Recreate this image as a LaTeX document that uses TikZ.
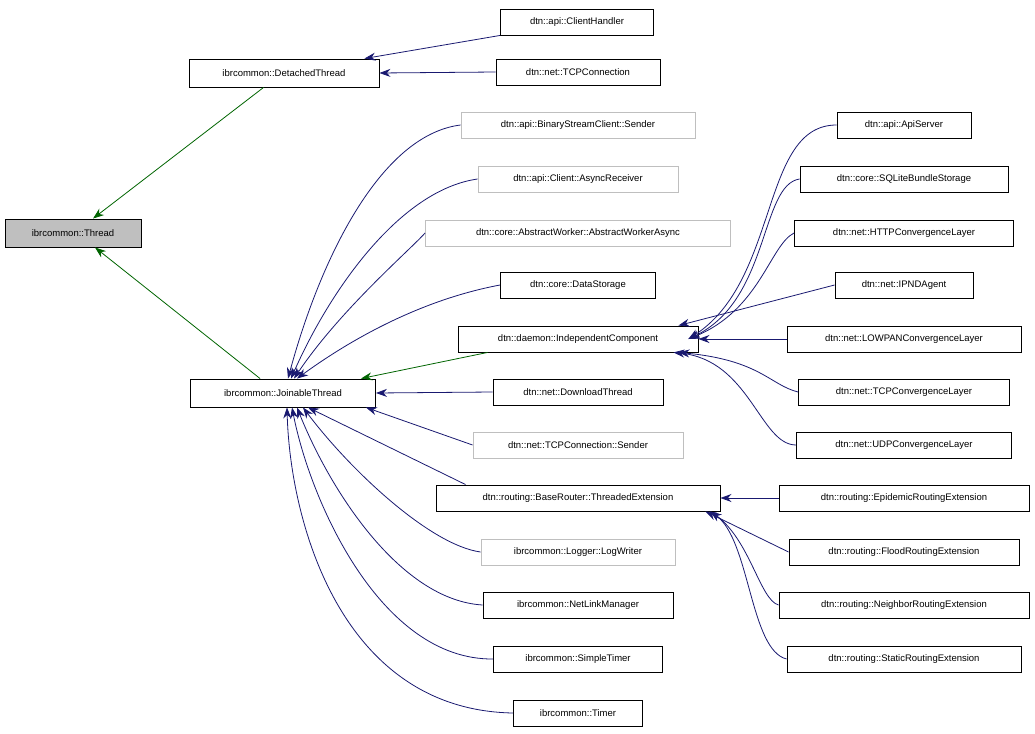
\documentclass[tikz,border=0pt]{standalone}
\usepackage{fontspec}
\setmainfont{Liberation Sans}
\usetikzlibrary{arrows.meta}
\definecolor{nav}{HTML}{191970}
\definecolor{dg}{HTML}{006400}
\tikzset{
 box/.style={draw=black,line width=0.9pt,minimum height=26pt,inner sep=0pt,font=\fontsize{9.5}{11}\selectfont},
 gbox/.style={box,draw={rgb,255:red,191;green,191;blue,191}},
 edge/.style={draw=nav,line width=0.8pt,-{Stealth[length=11pt,width=8pt]}},
 gedge/.style={edge,draw=dg,-{Stealth[length=11pt,width=8pt,fill=dg]}},
}
\begin{document}
\begin{tikzpicture}[x=1pt,y=-1pt]
\useasboundingbox (0,0) rectangle (1035,733);
\node[box,fill={rgb,255:red,191;green,191;blue,191},minimum width=136pt,minimum height=28pt] (T) at (73,233) {ibrcommon::Thread};
\node[box,minimum width=190pt,minimum height=28pt] (D) at (284,73) {ibrcommon::DetachedThread};
\node[box,minimum width=185pt,minimum height=28pt] (J) at (283,393) {ibrcommon::JoinableThread};
\node[box,minimum width=153pt] (ch) at (577,22) {dtn::api::ClientHandler};
\node[box,minimum width=164pt] (tc) at (578,72) {dtn::net::TCPConnection};
\node[gbox,minimum width=234pt] (bs) at (578,125) {dtn::api::BinaryStreamClient::Sender};
\node[gbox,minimum width=200pt] (ar) at (578,179) {dtn::api::Client::AsyncReceiver};
\node[gbox,minimum width=305pt] (aw) at (578,233) {dtn::core::AbstractWorker::AbstractWorkerAsync};
\node[box,minimum width=155pt] (ds) at (578,285) {dtn::core::DataStorage};
\node[box,minimum width=240pt] (ic) at (578,339) {dtn::daemon::IndependentComponent};
\node[box,minimum width=170pt] (dt) at (578,392) {dtn::net::DownloadThread};
\node[gbox,minimum width=210pt] (ts) at (578,445) {dtn::net::TCPConnection::Sender};
\node[box,minimum width=284pt] (te) at (578,498) {dtn::routing::BaseRouter::ThreadedExtension};
\node[gbox,minimum width=194pt] (lw) at (578,552) {ibrcommon::Logger::LogWriter};
\node[box,minimum width=190pt] (nl) at (578,605) {ibrcommon::NetLinkManager};
\node[box,minimum width=169pt] (st) at (578,659) {ibrcommon::SimpleTimer};
\node[box,minimum width=129pt] (ti) at (578,713) {ibrcommon::Timer};
\node[box,minimum width=134pt] (as) at (904,125) {dtn::api::ApiServer};
\node[box,minimum width=208pt] (sq) at (904,179) {dtn::core::SQLiteBundleStorage};
\node[box,minimum width=219pt] (hc) at (904,233) {dtn::net::HTTPConvergenceLayer};
\node[box,minimum width=138pt] (ip) at (904,285) {dtn::net::IPNDAgent};
\node[box,minimum width=234pt] (lo) at (904,339) {dtn::net::LOWPANConvergenceLayer};
\node[box,minimum width=211pt] (tcl) at (904,392) {dtn::net::TCPConvergenceLayer};
\node[box,minimum width=215pt] (ud) at (904,445) {dtn::net::UDPConvergenceLayer};
\node[box,minimum width=250pt] (ep) at (904,498) {dtn::routing::EpidemicRoutingExtension};
\node[box,minimum width=230pt] (fl) at (904,552) {dtn::routing::FloodRoutingExtension};
\node[box,minimum width=250pt] (ne) at (904,605) {dtn::routing::NeighborRoutingExtension};
\node[box,minimum width=234pt] (sr) at (904,659) {dtn::routing::StaticRoutingExtension};
% edges to Thread
\draw[gedge] (D.south west) ++(75,0) -- ([xshift=20pt]T.north);
\draw[gedge] (J.north west) ++(70,0) -- ([xshift=22pt]T.south);
% to DetachedThread
\draw[edge] (ch.south west) -- ([xshift=-15pt]D.north east);
\draw[edge] (tc.west) -- (D.east);
% to JoinableThread
\draw[edge] (bs.west) .. controls (380,135) and (320,260) .. ([xshift=5pt]J.north);
\draw[edge] (ar.west) .. controls (400,190) and (330,290) .. ([xshift=8pt]J.north);
\draw[edge] (aw.west) .. controls (410,250) and (340,310) .. ([xshift=11pt]J.north);
\draw[edge] (ds.west) .. controls (420,300) and (350,340) .. ([xshift=14pt]J.north);
\draw[edge,draw=dg,-{Stealth[length=11pt,width=8pt,fill=dg]}] ([xshift=30pt]ic.south west) -- ([xshift=-15pt]J.north east);
\draw[edge] (dt.west) -- (J.east);
\draw[edge] (ts.west) -- ([xshift=-10pt]J.south east);
\draw[edge] ([xshift=30pt]te.north west) -- ([xshift=25pt]J.south);
\draw[edge] (lw.west) .. controls (430,545) and (350,470) .. ([xshift=20pt]J.south);
\draw[edge] (nl.west) .. controls (400,600) and (330,490) .. ([xshift=14pt]J.south);
\draw[edge] (st.west) .. controls (380,660) and (310,500) .. ([xshift=9pt]J.south);
\draw[edge] (ti.west) .. controls (340,710) and (290,520) .. ([xshift=4pt]J.south);
% to IndependentComponent
\draw[edge] (as.west) .. controls (760,125) and (780,280) .. ([xshift=-10pt]ic.east);
\draw[edge] (sq.west) .. controls (760,185) and (770,300) .. ([xshift=-10pt]ic.east);
\draw[edge] (hc.west) .. controls (770,245) and (760,310) .. ([xshift=-10pt]ic.east);
\draw[edge] (ip.west) -- ([xshift=-20pt]ic.north east);
\draw[edge] (lo.west) -- (ic.east);
\draw[edge] (tcl.west) .. controls (770,385) and (760,360) .. ([xshift=-20pt]ic.south east);
\draw[edge] (ud.west) .. controls (760,445) and (750,360) .. ([xshift=-25pt]ic.south east);
% to ThreadedExtension
\draw[edge] (ep.west) -- (te.east);
\draw[edge] (fl.west) -- ([xshift=-15pt]te.south east);
\draw[edge] (ne.west) .. controls (760,600) and (750,540) .. ([xshift=-10pt]te.south east);
\draw[edge] (sr.west) .. controls (750,650) and (750,540) .. ([xshift=-10pt]te.south east);
\end{tikzpicture}
\end{document}
